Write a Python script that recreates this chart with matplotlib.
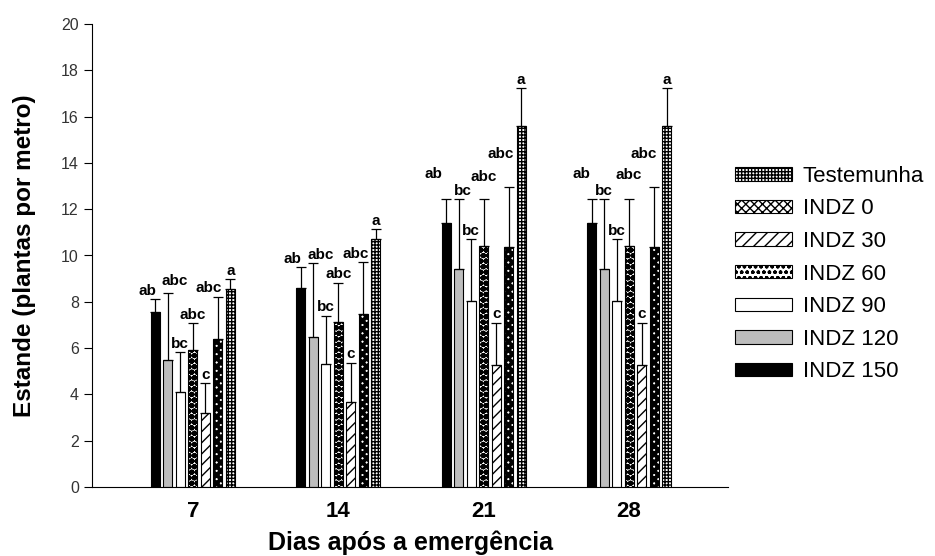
import numpy as np
import matplotlib
matplotlib.use('Agg')
import matplotlib.pyplot as plt
from matplotlib.patches import Patch

plt.rcParams['font.family'] = ['Liberation Sans', 'DejaVu Sans']
plt.rcParams['hatch.linewidth'] = 1.0

days = ['7', '14', '21', '28']
series = ['INDZ 150', 'INDZ 120', 'INDZ 90', 'INDZ 60', 'INDZ 30', 'INDZ 0', 'Testemunha']

indz150 = [7.57, 8.61, 11.42, 11.42]
indz120 = [5.49, 6.49, 9.40, 9.40]
indz90 = [4.09, 5.31, 8.05, 8.05]
indz60 = [5.92, 7.13, 10.41, 10.41]
indz30 = [3.18, 3.68, 5.27, 5.27]
indz0 = [6.39, 7.47, 10.35, 10.35]
testemunha = [8.54, 10.73, 15.60, 15.60]

err150 = [0.53, 0.89, 1.01, 1.01]
err120 = [2.88, 3.17, 3.03, 3.03]
err90 = [1.73, 2.09, 2.66, 2.66]
err60 = [1.15, 1.70, 2.02, 2.02]
err30 = [1.30, 1.69, 1.83, 1.83]
err0 = [1.83, 2.23, 2.62, 2.62]
err_test = [0.44, 0.41, 1.62, 1.62]

let150 = ['ab', 'ab', 'ab', 'ab']
let120 = ['abc', 'abc', 'bc', 'bc']
let90 = ['bc', 'bc', 'bc', 'bc']
let60 = ['abc', 'abc', 'abc', 'abc']
let30 = ['c', 'c', 'c', 'c']
let0 = ['abc', 'abc', 'abc', 'abc']
let_test = ['a', 'a', 'a', 'a']

values = [indz150, indz120, indz90, indz60, indz30, indz0, testemunha]
errors = [err150, err120, err90, err60, err30, err0, err_test]
letters = [let150, let120, let90, let60, let30, let0, let_test]

# fill style for each series
styles = [
    dict(facecolor='black', hatch=None, hlw=1.0),
    dict(facecolor='#bdbdbd', hatch=None, hlw=1.0),
    dict(facecolor='white', hatch=None, hlw=1.0),
    dict(facecolor='white', hatch='ooo', hlw=2.2),
    dict(facecolor='white', hatch='///', hlw=1.0),
    dict(facecolor='white', hatch='xxxx', hlw=2.8),
    dict(facecolor='white', hatch='+++++', hlw=1.0),
]

# nudges (pixels) for the letter labels, so they don't sit on top of each other
label_dx = [[-8, -8, -13, -10], [7, 7, 4, 0], [0, 0, 0, 0], [0, 0, 0, 0],
            [0, 0, 0, 0], [-9, -8, -8, -10], [0, 0, 0, 0]]
label_dy = [[0, 0, 17, 17], [4, 0, 0, 0], [0, 0, 0, 0], [0, 0, 14, 16],
            [0, 0, 0, 0], [0, 0, 24, 24], [0, 0, 0, 0]]


def set_hatch_lw(artist, lw):
    if hasattr(artist, 'set_hatch_linewidth'):
        artist.set_hatch_linewidth(lw)


fig = plt.figure(figsize=(9.35, 5.56), dpi=100)
ax = fig.add_axes([92 / 935, 1 - 487 / 556, (728 - 92) / 935, (487 - 24) / 556])

x = np.arange(len(days))
step = 0.086
width = 0.062
handles = []
for i, name in enumerate(series):
    pos = x + (i - 3) * step
    st = styles[i]
    bars = ax.bar(pos, values[i], width=width, color=st['facecolor'], edgecolor='black',
                  linewidth=0.8, hatch=st['hatch'], zorder=2)
    for b in bars:
        set_hatch_lw(b, st['hlw'])
    ax.errorbar(pos, values[i], yerr=[np.zeros(len(days)), errors[i]], fmt='none',
                ecolor='black', elinewidth=0.9, capsize=3.6, capthick=0.9, zorder=3)
    for j, (p, v, e, t) in enumerate(zip(pos, values[i], errors[i], letters[i])):
        ax.annotate(t, (p, v + e),
                    xytext=(label_dx[i][j] * 0.72, 1.0 + label_dy[i][j] * 0.72),
                    textcoords='offset points', ha='center', va='bottom',
                    fontsize=11, fontweight='bold')
    h = Patch(facecolor=st['facecolor'], edgecolor='black', linewidth=0.8,
              hatch=st['hatch'], label=name)
    set_hatch_lw(h, st['hlw'])
    handles.append(h)

ax.set_xlim(-0.693, 3.68)
ax.set_ylim(0, 20)
ax.set_yticks(np.arange(0, 21, 2))
ax.set_xticks(x)
ax.set_xticklabels(days, fontsize=16, fontweight='bold')
ax.tick_params(axis='x', length=0, pad=10)
ax.tick_params(axis='y', direction='out', length=6, labelsize=11.5, labelcolor='#333333')
ax.spines['top'].set_visible(False)
ax.spines['right'].set_visible(False)
ax.set_xlabel('Dias após a emergência', fontsize=18, fontweight='bold', labelpad=6)
ax.set_ylabel('Estande (plantas por metro)', fontsize=17.5, fontweight='bold', labelpad=18)

fig.legend(handles=handles[::-1], loc='upper left', bbox_to_anchor=(726 / 935, 1 - 157 / 556),
           frameon=False, fontsize=16, handlelength=2.55, handleheight=0.55,
           labelspacing=0.52, handletextpad=0.5, borderaxespad=0)

fig.savefig('out.png', dpi=100)
